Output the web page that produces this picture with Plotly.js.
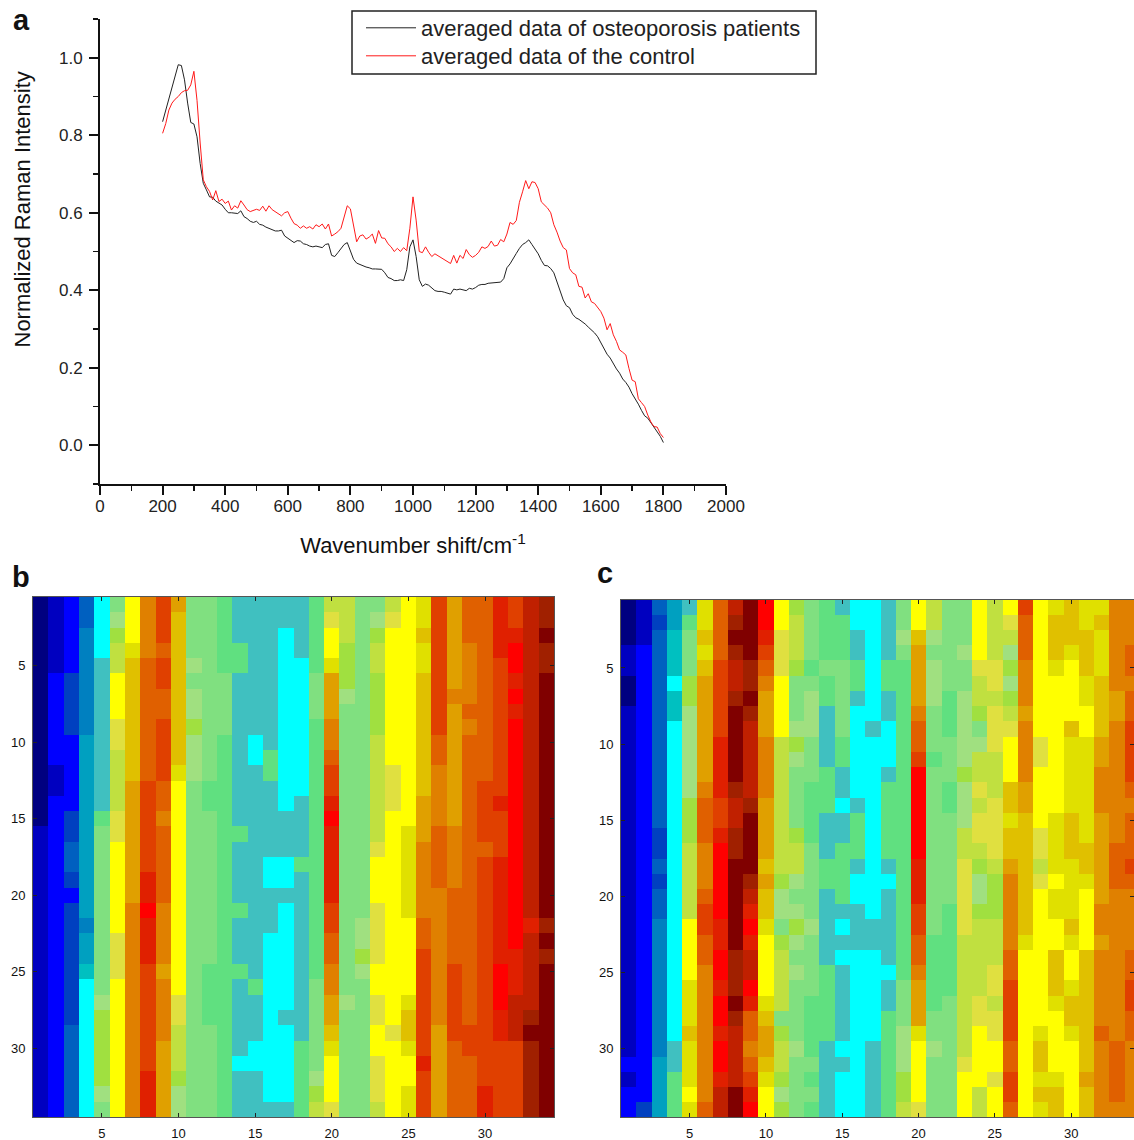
<!DOCTYPE html>
<html>
<head>
<meta charset="utf-8">
<script src="https://cdn.plot.ly/plotly-3.0.1.min.js"></script>
<style>html,body{margin:0;padding:0;background:#fff;overflow:hidden}#chart{width:1134px;height:1140px}</style>
</head>
<body>
<div id="chart"></div>
<script>
// Panel a: Raman spectra, one row per 100 cm-1 (10 cm-1 spacing), starting at 200
const spectrumStart = 200;
const spectrumStep = 10;
const osteoporosis = [
 .835,.865,.89,.92,.955,.982,.98,.943,.883,.833,
 .829,.796,.727,.676,.659,.641,.64,.63,.625,.62,
 .609,.60,.60,.598,.598,.605,.59,.585,.578,.575,
 .578,.57,.568,.563,.56,.555,.553,.553,.555,.54,
 .534,.53,.523,.528,.527,.52,.518,.514,.512,.514,
 .512,.51,.518,.52,.49,.487,.497,.508,.518,.523,
 .50,.48,.47,.466,.462,.46,.458,.455,.455,.454,
 .454,.445,.433,.43,.425,.425,.427,.425,.453,.512,
 .53,.487,.427,.41,.416,.413,.407,.399,.397,.397,
 .395,.392,.39,.403,.401,.403,.401,.399,.405,.403,
 .407,.413,.415,.415,.418,.419,.42,.421,.421,.43,
 .458,.468,.483,.495,.508,.518,.523,.53,.518,.505,
 .494,.477,.464,.463,.456,.445,.42,.40,.375,.36,
 .355,.338,.329,.325,.32,.313,.305,.298,.29,.28,
 .264,.25,.235,.225,.21,.197,.186,.171,.162,.15,
 .133,.12,.106,.09,.076,.07,.058,.048,.036,.023,
 .007];
const control = [
 .805,.83,.865,.883,.893,.90,.91,.915,.916,.93,
 .965,.89,.78,.685,.667,.655,.633,.657,.629,.635,
 .624,.63,.607,.618,.612,.631,.62,.608,.603,.606,
 .609,.606,.617,.604,.618,.608,.603,.598,.592,.60,
 .603,.586,.572,.568,.56,.566,.56,.564,.558,.569,
 .564,.571,.558,.571,.54,.545,.551,.56,.59,.618,
 .61,.57,.525,.54,.543,.532,.537,.545,.521,.554,
 .535,.534,.52,.512,.50,.508,.50,.51,.502,.56,
 .641,.581,.50,.497,.512,.498,.487,.494,.489,.483,
 .477,.472,.469,.49,.47,.49,.482,.505,.492,.485,
 .49,.498,.512,.508,.513,.527,.514,.516,.531,.525,
 .545,.575,.57,.58,.627,.654,.683,.662,.68,.678,
 .662,.628,.62,.612,.60,.569,.55,.527,.51,.504,
 .456,.445,.44,.41,.408,.38,.391,.37,.366,.354,
 .345,.328,.298,.314,.285,.268,.246,.24,.233,.198,
 .168,.164,.12,.11,.10,.078,.06,.048,.047,.03,
 .02];
const legendNames = ["averaged data of osteoporosis patients", "averaged data of the control"];

// Panels b, c: level codes ordered low to high, and their colours
const levelCodes = "abcdefghijklmnopqrstuvwxyzAB";
const levelColors = ["#000080","#0000c0","#0000ff","#0040c0","#0060c0","#0080c0","#00a0c0","#00c0c0",
 "#00ffff","#40c0c0","#60e080","#80e080","#a0e080","#a0e040","#c0e040","#e0e040","#e0e000","#ffff00",
 "#e0c000","#e0a000","#e08000","#e06000","#e04000","#e02000","#ff0000","#c02000","#a02000","#800000"];

// One run-length string per column, read top to bottom (code + row count)
const panelBColumns = [
 "a15b19","b5c6b2c21","c5d4c5d2e2d1c1d8e6","e2f7g12f1g2h1i9","i4j10k1l11m1n5m1l1",
 "l1m1n1o2r3p2o4p2r6p3r9","r3q1s8t8u14","u4v8w6x2y1x3w7x3","w3v1w2v2w4v2u1v5u4t1u4t5","t1s10q1r14p2o3n1m2",
 "l4m1l1m2n1m3l22","l12k2l10k4l6","k5l4k25","j3k2j10k1j4k1j3k1j5i1j3","j9i2j14k1j3i2j3",
 "j10k2j5i2j3i11j1","j2i12j3i2j1i7j1i5j1","j4i9j4k1j11k5","k5l3k17l6m1n1o1",
 "o1p1r2q1t3u2v1w2x1y1x5w2v2u2t2s1q1r3p1","o3n3m1l19m1l7","l21m2n1m1l9","l1m1n1o2n4o7p1r3p4r2p2r2p3o1",
 "o1p1r9p3r14p1r5","r15q6r5q1s2q1r2q2","q2s1q2s8t3u5v2w7x1w3","w9v2u4v4u9t6","t6u1t8u4v5w5v5",
 "v3u4v1u1v19w2v4","v12w4v1w15x2","x4w9x1w3x7y3x2w5","w2x1y2x1y1x1y15x3z3w5","z21x1z5A1B1A5","A2B1A2B16A1B1A1B10"];
const panelCColumns = [
 "a3b2a2b23c1b1c2","b3c30d1","e1d1e13d2e1d1e2f9g4","g2h3i1h2i21j2k3","j1k1l3n2m6n3o5r4q3s1q3r1q1",
 "q2s1q1s1t7u1v3u3v1w2v2u9v1","v4w5x4w2x1y5x2y2x1y2x1y2x1z2","z1A1B1A1z2A1B5A1z2A2B6A3B1A1z4B2",
 "B4A2B1A1z5A1B4A1z1x1y1x1z2y1x1v2u1v1w1x1y1","y2x1w1v1u1t3u4t4s1t1s2q1r4q1s1t2s1q1r2",
 "r2p3r4o9n1m2l1n1o4l1n1o2n1m1n1","n1o3n1l3m1n1m1l4n1o2m1l1m1n1m1l1m1l4m1l4","l4k1l1m3l3k4l5m1l4k4l1k1l1k1",
 "k4l1k2j4k3j3k2j5k5j5","j1k3l5k2j2i1j2k4j1i1j1i1j5i1j1i3","i2j2k2j1i6j1k3j1i2j3i11","i8j1i12j2i6j5",
 "j4k2j2i3j1k5j1i1j5i1j2k7","l2m1l1k21l3m3n2o1","r2s1t4u1v2w1y6x3w2v2u1t3q1r4p1","o2m1l1m3l3k1l11k5l2m1l4",
 "l6k3l3k2l6k6l8","l3m1l2m4m1n1m3o2p5o8p1r3","r4p1o2n1l1m1o2p1o1p2o1n1m2n1o5p2r4o2",
 "o4p2o1p3o3p4o1n3o3p2o1p2r2p1r2","r1p1o1m1n1m1n1o1p1r3s2q1s2t1u5v2w4v2w2v1","w1v3u3t1u4t2s8q1r11",
 "r9p2r4p2o1p1r9q1s2q1s1q1","q1s3q1r9q4r1q2r2s3q1r4q1s2","s3q1r4s1q5s3q4s1q1r2q1s2q1r5",
 "q2s3q2r2q7s2q1r4s8t1s2","q1s1q3s4t2u3t6u2t1u5v1u5","u6t2u8v3u10v4u1","u3v2u1v2w4v1u1v3w1v1u4v2w2v2u5"];
const heatTicks = [5,10,15,20,25,30];

function expandColumn(text){
  const out = [];
  for (const m of text.matchAll(/([a-zA-Z])(\d+)/g))
    for (let i = 0; i < +m[2]; i++) out.push(levelCodes.indexOf(m[1]));
  return out;
}
function toMatrix(columns){
  const cols = columns.map(expandColumn);
  return cols[0].map((_, r) => cols.map(c => c[r]));
}
const n = levelColors.length;
const stepScale = [];
levelColors.forEach((c,i) => { stepScale.push([i/n,c]); stepScale.push([(i+1)/n,c]); });

const W = 1134, H = 1140;
const px = v => v / W, py = v => 1 - v / H;
const font = "Liberation Sans, Arial, sans-serif";
const spectrumX = osteoporosis.map((_, i) => spectrumStart + spectrumStep * i);
const order = Array.from({length:34},(_, i) => i + 1);

const heatAxis = (extra) => Object.assign({
  tickmode:"array", tickvals:heatTicks, ticktext:heatTicks.map(String),
  ticks:"inside", ticklen:4, tickwidth:1, tickcolor:"#222", showline:true, linecolor:"#555", linewidth:1,
  mirror:"ticks", showgrid:false, zeroline:false, tickfont:{family:font,size:13,color:"#111"}, ticklabelstandoff:4
}, extra);
const legendRow = (top) => ({x:px(361),y:py(top),xanchor:"left",yanchor:"top",bgcolor:"rgba(0,0,0,0)",borderwidth:0,
   font:{family:font,size:22,color:"#222"},itemwidth:50});

const traces = [
 {type:"scatter",mode:"lines",x:spectrumX,y:osteoporosis,name:legendNames[0],legend:"legend",line:{color:"#222222",width:1}},
 {type:"scatter",mode:"lines",x:spectrumX,y:control,name:legendNames[1],legend:"legend2",line:{color:"#ff1a1a",width:1}},
 {type:"heatmap",x:order,y:order,z:toMatrix(panelBColumns),xaxis:"x2",yaxis:"y2",showscale:false,zmin:-0.5,zmax:n-0.5,colorscale:stepScale,hoverinfo:"skip"},
 {type:"heatmap",x:order,y:order,z:toMatrix(panelCColumns),xaxis:"x3",yaxis:"y3",showscale:false,zmin:-0.5,zmax:n-0.5,colorscale:stepScale,hoverinfo:"skip"}
];

const layout = {
 width:W,height:H,margin:{l:0,r:0,t:0,b:0},paper_bgcolor:"#fff",plot_bgcolor:"#fff",
 font:{family:font,color:"#111"},
 showlegend:true,
 legend:legendRow(7),
 legend2:legendRow(35),
 shapes:[{type:"rect",xref:"paper",yref:"paper",x0:px(352),x1:px(816),y0:py(11),y1:py(74),line:{color:"#222",width:1.5},layer:"below"}],
 xaxis:{domain:[px(100),px(726)],range:[0,2000],tick0:0,dtick:200,ticks:"outside",ticklen:9,tickwidth:2,tickcolor:"#111",
   minor:{dtick:100,ticks:"outside",ticklen:5,tickwidth:1.5,tickcolor:"#111"},
   showline:true,linecolor:"#111",linewidth:2,showgrid:false,zeroline:false,anchor:"y",ticklabelstandoff:-3,
   tickfont:{family:font,size:17,color:"#222"},
   title:{text:"Wavenumber shift/cm<sup>-1</sup>",font:{family:font,size:22,color:"#111"},standoff:22}},
 yaxis:{domain:[py(484),py(19)],range:[-0.1,1.1],tick0:0,dtick:0.2,tickformat:".1f",ticks:"outside",ticklen:9,tickwidth:2,tickcolor:"#111",
   minor:{dtick:0.1,tick0:-0.1,ticks:"outside",ticklen:5,tickwidth:1.5,tickcolor:"#111"},
   showline:true,linecolor:"#111",linewidth:2,showgrid:false,zeroline:false,anchor:"x",ticklabelstandoff:3,
   tickfont:{family:font,size:17,color:"#222"}},
 xaxis2:heatAxis({domain:[px(33),px(554)],range:[0.5,34.5],anchor:"y2"}),
 yaxis2:heatAxis({domain:[py(1117),py(597)],range:[34.5,0.5],anchor:"x2"}),
 xaxis3:heatAxis({domain:[px(621),1],range:[0.5,34.12],anchor:"y3"}),
 yaxis3:heatAxis({domain:[py(1117),py(599.5)],range:[34.5,0.5],anchor:"x3"}),
 annotations:[
  {text:"Normalized Raman Intensity",xref:"paper",yref:"paper",x:px(22),y:py(209.5),textangle:-90,xanchor:"center",yanchor:"middle",showarrow:false,font:{family:font,size:22,color:"#111"}},
  {text:"<b>a</b>",xref:"paper",yref:"paper",x:px(21),y:py(20),xanchor:"center",yanchor:"middle",showarrow:false,font:{family:font,size:29,color:"#111"}},
  {text:"<b>b</b>",xref:"paper",yref:"paper",x:px(21),y:py(577),xanchor:"center",yanchor:"middle",showarrow:false,font:{family:font,size:29,color:"#111"}},
  {text:"<b>c</b>",xref:"paper",yref:"paper",x:px(605),y:py(573),xanchor:"center",yanchor:"middle",showarrow:false,font:{family:font,size:29,color:"#111"}}
 ]
};
Plotly.newPlot("chart",traces,layout,{displayModeBar:false,staticPlot:true});
</script>
</body>
</html>
